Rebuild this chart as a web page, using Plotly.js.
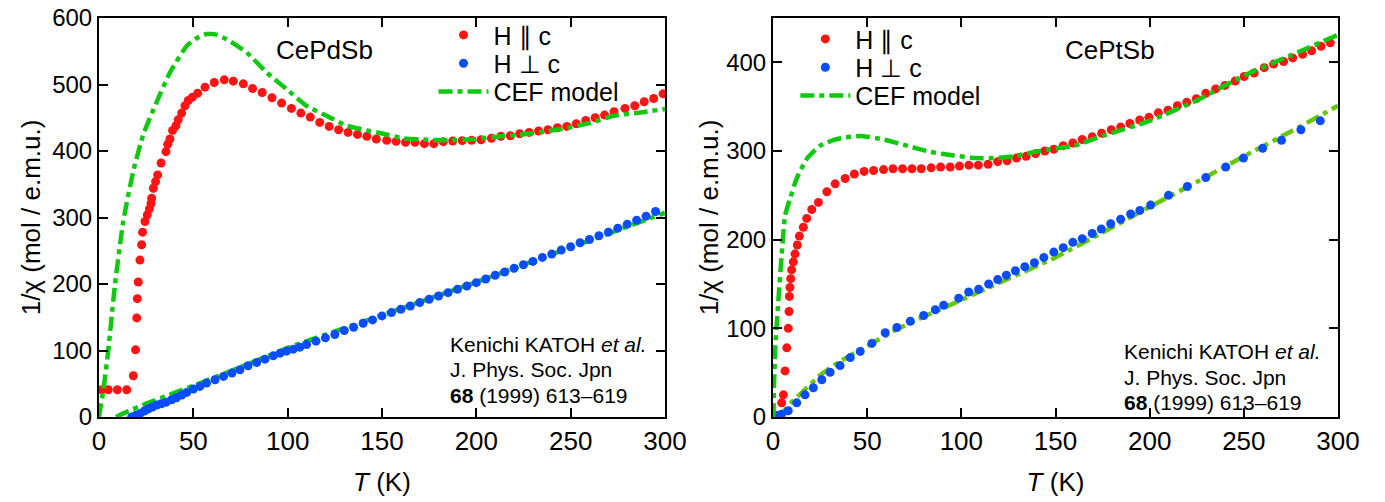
<!DOCTYPE html>
<html>
<head>
<meta charset="utf-8">
<script src="https://cdn.plot.ly/plotly-3.0.1.min.js"></script>
<style>html,body{margin:0;padding:0;background:#fff;}#chart{width:1385px;height:502px;}</style>
</head>
<body>
<div id="chart"></div>
<script>
// ---------- CePdSb (left panel) ----------
var pdParT = [1.4, 4.9, 9.7, 14.7, 18.2, 19.4, 20.0, 20.3, 20.8, 21.7, 22.6, 23.1, 24.4, 25.6, 26.7, 27.6, 27.9, 28.8, 30.0, 31.1, 32.9, 35.5, 36.4, 37.6, 39.0, 40.8, 42.0, 43.8, 45.6, 47.3, 49.5, 52.3, 56.2, 61.1, 66.4, 71.2, 76.5, 81.4, 86.5, 91.7, 96.8, 102.0, 107.0, 112.0, 117.0, 122.0, 127.0, 132.0, 137.0, 142.0, 147.0, 152.5, 157.5, 162.5, 167.5, 172.5, 177.5, 182.5, 187.5, 192.5, 197.5, 202.5, 208, 213, 218, 223, 228, 233, 238, 243, 248, 253, 258, 263, 268, 273, 278.8, 284, 289, 294, 299];
var pdParY = [41, 41, 41, 41, 62, 101, 149, 178, 203, 236, 259, 278, 294, 304, 313, 321, 329, 344, 354, 364, 382, 399, 410, 418, 431, 438, 447, 457, 468, 476, 481, 487, 496, 503, 507, 505, 501, 494, 488, 480, 472, 464, 457, 451, 443, 437, 432, 428, 425, 422, 418, 416, 414.5, 413, 413, 411, 411, 414, 415, 415.5, 416, 417, 419, 422, 423, 426, 428, 430, 432, 435, 437, 441, 446, 450, 454, 459, 464, 468, 474, 479, 486];

var pdPerpT = [17.3, 19.5, 21.7, 24, 26, 28.3, 30.6, 33, 35.5, 38.5, 41, 43.8, 46.5, 50, 53.5, 57, 61.5, 66, 70.5, 74.7, 79, 83.6, 88, 92.4, 96, 99.4, 103, 106.5, 110, 115, 120, 125, 130, 135, 140, 145, 150, 155, 160, 165, 170, 175, 180, 185, 190, 195, 200, 205, 210, 215, 220, 225, 230, 235, 240, 245, 250, 255, 260, 265, 270, 275, 280, 285, 290, 295];
var pdPerpY = [0, 2.5, 5, 9, 12, 15, 18, 20, 22, 26, 29, 33, 37, 42, 46, 51, 56, 61, 66, 71, 77, 82, 87, 92, 96, 99, 102, 105, 109, 114, 119, 124, 130, 135, 141, 146, 152, 157, 162, 167, 172, 177, 182, 187, 192, 197, 202, 207.5, 213, 218, 223.5, 229, 234, 240, 245, 251, 256, 262, 267, 272.5, 278, 284, 290, 296, 302, 309];

var pdCefParT = [0, 1, 2.3, 4.9, 8.5, 12.9, 18.2, 23.5, 30.6, 37.6, 46.5, 52, 57, 62, 67.7, 78.3, 88.9, 99.4, 110, 120.6, 131.3, 141.9, 150.7, 161.3, 173.7, 186, 197.5, 209, 221.4, 233.7, 245.2, 260, 273, 287, 300];
var pdCefParY = [0, 18, 40, 100, 200, 295, 370, 425, 474, 518, 558, 570, 576, 575, 568, 548, 518, 493, 468, 453, 438, 431, 426, 419, 417, 416, 417.5, 421, 424, 428, 433, 442, 453, 458, 463];

var pdCefPerpT = [9, 15, 25, 35, 50, 75, 101, 150, 200, 250, 300];
var pdCefPerpY = [0, 8, 20, 31, 47, 75, 105, 153, 203, 255, 307];

// ---------- CePtSb (right panel) ----------
var ptParT = [4.6, 5.5, 6.4, 7.3, 8.1, 8.5, 8.7, 9.0, 9.4, 9.9, 10.8, 11.7, 12.9, 14.0, 16.1, 17.9, 20.6, 24.1, 28.6, 33, 38.3, 43.2, 48.4, 53.4, 58.7, 63.7, 68.8, 73.8, 78.7, 84, 89, 94.1, 99, 104, 109, 114.2, 119.3, 124.3, 129.3, 134.4, 139.4, 144.3, 149.1, 154.1, 159.2, 164.2, 169.5, 174.5, 179.6, 184.6, 189.5, 194.7, 199.6, 204.6, 209.7, 214.7, 219.7, 224.8, 229.8, 235, 240, 245.4, 250.2, 255.5, 260.8, 265.8, 271.1, 275.9, 281.2, 286, 291, 295.9];
var ptParY = [16, 25, 52, 78, 100, 119, 136, 146, 156, 166, 175, 184, 194, 204, 214, 224, 234, 242, 254, 263, 269, 274, 277, 278, 279, 280, 280, 280, 280, 281, 282, 282, 283, 284, 284, 285, 288, 289, 292, 294, 297, 300, 302, 306, 309, 313, 316, 320, 324, 327, 331, 335, 338, 343, 346, 351, 355, 359, 365, 370, 374, 379, 384, 388, 394, 398, 401, 405, 409, 413, 418, 422];

var ptPerpT = [1.5, 4.5, 8.1, 12.6, 17, 21.4, 25.9, 30.3, 35.6, 41, 46.3, 52.5, 59.6, 65.8, 72.9, 80, 86.2, 90.6, 98.6, 103.9, 109.2, 114.5, 119.3, 123.9, 128.7, 133.7, 138.8, 143.8, 149.1, 154.1, 159.2, 164.2, 169.5, 174.3, 179.3, 184.6, 189.9, 194.8, 200.5, 210, 220, 229.8, 240.4, 249.8, 260, 270, 280.3, 290.6];
var ptPerpY = [2, 3, 7, 16, 25, 33, 42, 50.5, 58, 67, 74, 83, 95, 101, 108, 114.5, 121, 126, 134, 141, 144, 150, 155, 160, 165, 169.5, 174, 180, 186, 191, 197, 201, 207, 212, 218, 223, 229, 233, 239, 250, 260, 270, 282, 292, 303, 312, 324, 334];

var ptCefParT = [0, 0.2, 0.5, 1.1, 2.8, 4.6, 6.4, 9, 12.6, 17.9, 25, 33.9, 46.3, 58.7, 71, 83.5, 95.9, 108, 117, 127.8, 138.5, 147.3, 160, 175, 200, 225, 250, 275, 300];
var ptCefParY = [0, 3, 33, 74, 130, 183, 227, 246, 269, 291, 306, 313.5, 317, 313, 306, 299, 295, 292, 292, 294, 299, 302, 306, 317, 334, 357, 385, 408, 431];

var ptCefPerpT = [2, 5, 10, 15, 25, 35, 50, 65, 80, 100, 125, 150, 175, 200, 225, 250, 275, 300];
var ptCefPerpY = [0, 5, 17, 27, 47, 62, 80, 98, 113, 132, 156, 180, 208, 237, 265, 294, 322, 351];

var xTicks = [0, 50, 100, 150, 200, 250, 300];
var legendNames = ['H \u2225 c', 'H \u22A5 c', 'CEF model'];
var panelNames = ['CePdSb', 'CePtSb'];
var refLines = ['Kenichi KATOH <i>et al.</i>', 'J. Phys. Soc. Jpn', '<b>68</b> (1999) 613\u2013619'];

var RED = '#ff1414', BLUE = '#0a4dff', GREEN = '#10c810', GREEN2 = '#66c800';
var FONT = 'Liberation Sans, Arial, sans-serif';
var DASH = '14px,5px,5px,5px';

function mk(x, y, color, name, xa, ya, lg, show) {
  return {x: x, y: y, type: 'scatter', mode: 'markers', name: name, xaxis: xa, yaxis: ya,
    legend: lg, showlegend: show,
    marker: {color: color, size: 9}};
}
function ln(x, y, color, name, xa, ya, lg, show) {
  return {x: x, y: y, type: 'scatter', mode: 'lines', name: name, xaxis: xa, yaxis: ya,
    legend: lg, showlegend: show,
    line: {color: color, width: 4.5, dash: DASH, shape: 'spline', smoothing: 0.5}};
}

var data = [
  ln(pdCefPerpT, pdCefPerpY, GREEN, legendNames[2], 'x', 'y', 'legend3', false),
  mk(pdPerpT, pdPerpY, BLUE, legendNames[1], 'x', 'y', 'legend2', true),
  mk(pdParT, pdParY, RED, legendNames[0], 'x', 'y', 'legend', true),
  ln(pdCefParT, pdCefParY, GREEN, legendNames[2], 'x', 'y', 'legend3', true),

  ln(ptCefPerpT, ptCefPerpY, GREEN2, legendNames[2], 'x2', 'y2', 'legend6', false),
  mk(ptPerpT, ptPerpY, BLUE, legendNames[1], 'x2', 'y2', 'legend5', true),
  mk(ptParT, ptParY, RED, legendNames[0], 'x2', 'y2', 'legend4', true),
  ln(ptCefParT, ptCefParY, GREEN, legendNames[2], 'x2', 'y2', 'legend6', true)
];

function xax(dom, anchor) {
  return {domain: dom, anchor: anchor, range: [0, 300], tickvals: xTicks, ticks: 'inside', ticklen: 9, tickwidth: 2,
    tickcolor: '#000', showline: true, linecolor: '#000', linewidth: 2, mirror: 'ticks', showgrid: false, zeroline: false,
    tickfont: {family: FONT, size: 26, color: '#000'}, automargin: false,
    title: {text: '<i>T</i> (K)', font: {family: FONT, size: 26, color: '#000'}, standoff: 18}};
}
function yax(max, anchor, standoff) {
  return {domain: [0, 1], anchor: anchor, range: [0, max], dtick: 100, ticks: 'inside', ticklen: 9, tickwidth: 2,
    tickcolor: '#000', showline: true, linecolor: '#000', linewidth: 2, mirror: 'ticks', showgrid: false, zeroline: false,
    tickfont: {family: FONT, size: 24, color: '#000'}, automargin: false,
    title: {text: '1/\u03C7 (mol / e.m.u.)', font: {family: FONT, size: 26, color: '#000'}, standoff: standoff}};
}

function lgd(x, y) {
  return {bgcolor: 'rgba(0,0,0,0)', borderwidth: 0, xanchor: 'left', yanchor: 'middle', x: x, y: y,
    font: {family: FONT, size: 25, color: '#000'}, itemwidth: 50, tracegroupgap: 0};
}

function refAnn(xp, yps) {
  return refLines.map(function (t, i) {
    return {text: t, xref: 'paper', yref: 'paper', x: xp, y: yps[i], xanchor: 'left', yanchor: 'middle',
      align: 'left', showarrow: false, font: {family: FONT, size: 21, color: '#000'}};
  });
}

var layout = {
  width: 1385, height: 502,
  margin: {l: 99, r: 47, t: 15, b: 85},
  paper_bgcolor: '#fff', plot_bgcolor: '#fff',
  font: {family: FONT, color: '#000'},
  xaxis: xax([0, 0.4568], 'y'),
  yaxis: yax(600, 'x', 4),
  xaxis2: xax([0.544, 1], 'y2'),
  yaxis2: yax(450, 'x2', 0),
  legend: lgd(0.270, 0.957),
  legend2: lgd(0.270, 0.886),
  legend3: lgd(0.270, 0.815),
  legend4: lgd(0.562, 0.947),
  legend5: lgd(0.562, 0.876),
  legend6: lgd(0.562, 0.805),
  annotations: [
    {text: panelNames[0], xref: 'paper', yref: 'paper', x: 0.1824, y: 0.92, xanchor: 'center', yanchor: 'middle',
      showarrow: false, font: {family: FONT, size: 26, color: '#000'}},
    {text: panelNames[1], xref: 'paper', yref: 'paper', x: 0.816, y: 0.92, xanchor: 'center', yanchor: 'middle',
      showarrow: false, font: {family: FONT, size: 26, color: '#000'}}
  ].concat(refAnn(0.2817, [0.182, 0.118, 0.054])).concat(refAnn(0.8257, [0.164, 0.100, 0.036]))
};

Plotly.newPlot('chart', data, layout, {displayModeBar: false, staticPlot: true});
</script>
</body>
</html>
